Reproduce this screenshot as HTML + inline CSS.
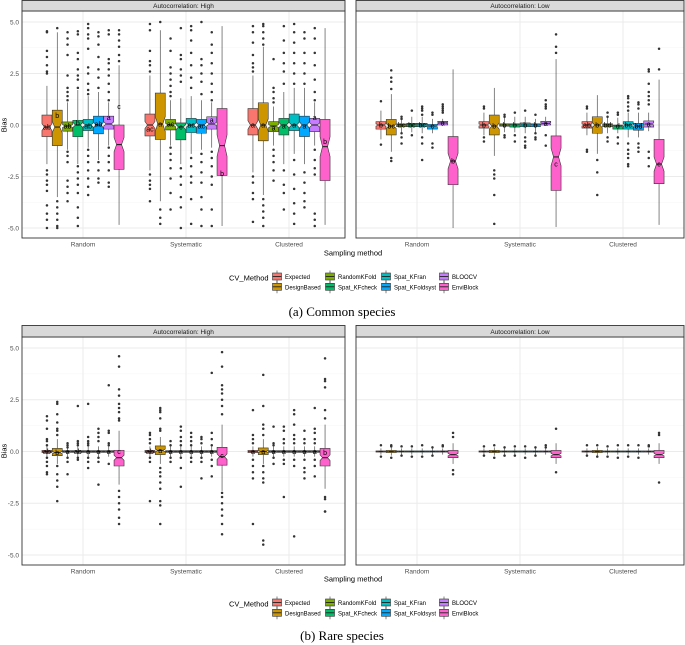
<!DOCTYPE html>
<html><head><meta charset="utf-8">
<style>
html,body{margin:0;padding:0;background:#fff;}
svg{display:block;font-family:"Liberation Sans",sans-serif;}
</style></head>
<body>
<svg id="fig" width="685" height="645" viewBox="0 0 685 645" xmlns="http://www.w3.org/2000/svg"></svg>
<script>
const methods = ["Expected","DesignBased","RandomKFold","Spat_KFcheck","Spat_KFran","Spat_KFoldsyst","BLOOCV","EnviBlock"];
const methodColors = ["#F8766D","#CD9600","#7CAE00","#00BE67","#00BFC4","#00A9FF","#C77CFF","#FF61CC"];
const groups = ["Random","Systematic","Clustered"];
const yTicks = [-5,-2.5,0,2.5,5];
const yTickLabels = ["-5.0","-2.5","0.0","2.5","5.0"];

// stats: [lowerWhisker, q1, median, q3, upperWhisker]
const commonHighStats = [
 [[-1.9,-0.56,-0.1,0.48,1.9],[-3.5,-1.0,-0.1,0.72,4.5],[-1.2,-0.3,-0.05,0.15,1.1],[-1.9,-0.57,0,0.23,1.7],[-1.1,-0.27,0,0.27,1.4],[-1.7,-0.43,0,0.43,1.6],[-1.0,-0.2,0.05,0.43,1.1],[-4.85,-2.15,-0.95,0,2.9]],
 [[-2.2,-0.53,0,0.53,2.4],[-3.7,-0.7,0.05,1.55,4.6],[-1.0,-0.24,0,0.27,1.2],[-1.9,-0.72,-0.1,0.1,1.3],[-1.4,-0.37,0,0.32,1.4],[-1.2,-0.4,0,0.27,1.2],[-1.1,-0.2,0.05,0.4,1.1],[-4.9,-2.45,-1.0,0.8,4.8]],
 [[-2.3,-0.48,0,0.8,2.4],[-3.4,-0.77,0,1.08,3.8],[-1.0,-0.32,-0.05,0.16,0.9],[-1.9,-0.48,0,0.32,1.6],[-1.4,-0.27,0,0.53,1.8],[-1.9,-0.56,0,0.43,1.8],[-1.0,-0.32,0,0.32,1.1],[-4.85,-2.7,-1.05,0.27,4.7]]
];
const commonHighLetters = [["ab","b","ab","b","ab","ab","a","c"],["ac","a","ac","c","ac","ac","a","b"],["a","a","a","a","a","a","a","b"]];
const commonHighLetterY = [[-0.1,0.45,-0.05,0.1,-0.05,0.05,0.35,0.9],[-0.2,0.05,0.05,-0.1,0,-0.05,0.25,-2.35],[0,0,-0.15,-0.05,0,-0.05,0.35,-0.8]];
const commonHighOutliers = [
 [[4.55,4.5,3.6,3.3,2.9,2.6,2.5,-2.2,-2.4,-2.7,-2.9,-3.2,-3.9,-4.3,-4.6,-5.0],[4.7,-3.7,-4.0,-4.3,-4.6,-4.9,-5.0],[4.5,4.2,3.9,3.4,2.4,1.8,1.6,1.4,1.2,-1.3,-1.5,-1.8,-2.7,-3.0,-3.3,-3.7],[4.55,4.4,3.5,3.2,2.7,2.4,2.2,1.8,-2.0,-2.3,-2.6,-2.9,-3.3,-4.0,-4.5,-4.9],[4.9,4.7,4.4,4.2,3.7,2.8,2.5,2.0,1.7,1.5,-1.2,-1.5,-1.8,-2.2,-2.6,-3.0,-3.4],[4.5,4.3,3.9,3.3,2.7,2.3,1.8,-1.8,-2.2,-2.6,-2.8],[4.6,4.4,3.2,3.0,2.7,2.4,2.0,1.6,1.2,-1.1,-1.5,-1.8,-2.2,-2.8,-3.0],[4.6,4.4,4.1,3.8,3.4,3.1]],
 [[4.9,4.6,3.6,3.1,2.9,2.6,-2.4,-2.7,-2.9,-3.1,-3.7],[5.0,-4.1,-4.5,-4.8],[4.2,3.6,2.8,2.5,2.2,1.9,1.6,1.4,-1.1,-1.4,-1.7,-2.1,-2.6,-3.3,-4.1],[4.7,3.4,3.2,2.7,2.4,2.1,-2.1,-2.5,-2.9,-3.5,-4.0,-5.0],[4.8,4.6,4.1,3.5,2.9,2.3,1.8,-1.6,-2.0,-2.5,-2.8,-3.6,-4.8],[5.0,3.2,2.9,2.5,2.1,1.5,-1.4,-1.8,-2.3,-2.8,-3.5,-4.1,-4.9],[4.5,3.9,3.5,3.0,2.5,2.0,1.6,1.2,-1.3,-1.6,-2.0,-2.5,-2.9,-4.1,-4.9],[]],
 [[4.8,4.5,4.0,3.4,3.0,2.8,2.6,-2.5,-2.8,-3.3,-3.6,-4.7],[4.9,4.8,4.5,4.2,3.9,-3.6,-3.9,-4.2,-4.5,-4.9],[3.2,1.8,1.6,1.3,1.1,-1.2,-1.5,-1.8,-2.2,-2.7],[4.8,4.1,3.5,3.0,2.6,2.0,-2.2,-2.9,-3.3,-4.1],[4.9,4.5,4.0,3.5,3.0,2.5,2.0,-1.7,-2.4,-3.1,-3.8,-4.3,-4.8],[4.5,4.2,3.5,3.0,2.5,2.0,-2.3,-2.8,-3.3,-3.7,-4.0],[4.7,4.2,3.5,2.9,2.2,1.6,1.2,-1.2,-1.7,-2.1,-2.4,-4.3,-4.6,-4.9],[]]
];

const commonLowStats = [
 [[-0.7,-0.2,0,0.16,0.7],[-1.3,-0.48,-0.05,0.27,1.5],[-0.35,-0.08,0,0.05,0.35],[-0.35,-0.08,0,0.08,0.4],[-0.4,-0.08,0,0.08,0.4],[-0.4,-0.2,-0.05,0.03,0.3],[-0.05,0,0.1,0.18,0.3],[-5.0,-2.9,-1.75,-0.56,2.7]],
 [[-0.5,-0.15,0,0.16,0.6],[-1.5,-0.48,-0.05,0.48,1.8],[-0.35,-0.06,0,0.06,0.4],[-0.35,-0.1,0,0.06,0.4],[-0.4,-0.08,0,0.1,0.4],[-0.35,-0.08,0,0.06,0.3],[0,0,0.08,0.18,0.4],[-4.95,-3.18,-1.55,-0.53,3.2]],
 [[-0.5,-0.15,0,0.16,0.6],[-1.4,-0.4,0,0.4,1.45],[-0.4,-0.08,0,0.06,0.4],[-0.4,-0.2,-0.05,0,0.35],[-0.6,-0.2,0,0.16,0.6],[-0.6,-0.25,-0.05,0.08,0.6],[-0.3,-0.1,0.05,0.2,0.6],[-4.85,-2.85,-1.9,-0.7,2.2]]
];
const commonLowLetters = [["b","bc","bc","bc","bc","c","a","b"],["b","b","b","b","b","b","a","c"],["ab","b","bd","d","bc","bd","a","c"]];
const commonLowLetterY = [[0,-0.05,0,0,0,-0.05,0.1,-1.75],[0,-0.05,0,0,0,0,0.08,-1.9],[0,0,0,-0.05,0,-0.05,0.05,-1.9]];
const commonLowOutliers = [
 [[1.15,-0.95],[2.65,2.3,2.1,1.75,-1.6,-1.75],[0.4,0.3,-0.4,-0.6,-0.9],[0.7,-0.5],[0.9,0.8,0.7,0.5,-0.6,-0.9,-1.7],[0.6,0.5,-0.9,-1.1],[1.0,0.9,0.8,0.7,0.6],[]],
 [[0.9,0.8,-0.6,-0.8],[-2.2,-2.4,-2.6,-3.4,-4.8],[0.5,0.4,-0.5,-0.6],[0.6,-0.5,-0.8],[0.7,-0.6,-0.8,-1.0,-1.1],[0.5,-0.4,-0.6,-0.7],[1.2,1.0,0.9,0.8,-0.5,-1.0],[4.4,3.8,3.5]],
 [[0.9,0.8,-1.2,-1.3],[-1.7,-2.3,-3.4],[0.6,0.4,-0.6,-0.8],[0.6,0.5,-0.6,-0.9],[1.4,1.3,1.1,0.9,0.7,-0.9,-1.2,-1.4,-1.6,-1.9,-2.0],[1.1,1.0,0.8,-0.9,-1.1,-1.3],[2.7,2.6,2.0,1.6,1.4,1.2,1.0,-1.3,-1.6,-2.0],[3.7,2.7]]
];

const rareHighStats = [
 [[-0.25,-0.05,0,0.05,0.25],[-0.6,-0.2,-0.05,0.15,0.6],[-0.25,-0.04,0,0.04,0.25],[-0.25,-0.04,0,0.04,0.25],[-0.25,-0.04,0,0.04,0.25],[-0.25,-0.04,0,0.04,0.25],[-0.25,-0.04,0,0.04,0.25],[-1.6,-0.7,-0.3,0.06,1.0]],
 [[-0.25,-0.05,0,0.05,0.25],[-0.6,-0.15,0.05,0.27,0.7],[-0.25,-0.04,0,0.04,0.25],[-0.25,-0.04,0,0.04,0.25],[-0.25,-0.04,0,0.04,0.25],[-0.25,-0.04,0,0.04,0.25],[-0.25,-0.04,0,0.04,0.25],[-1.9,-0.66,-0.25,0.2,1.3]],
 [[-0.25,-0.05,0,0.05,0.25],[-0.6,-0.15,0,0.17,0.6],[-0.25,-0.04,0,0.04,0.25],[-0.25,-0.04,0,0.04,0.25],[-0.25,-0.04,0,0.04,0.25],[-0.25,-0.04,0,0.04,0.25],[-0.25,-0.04,0,0.04,0.25],[-1.8,-0.7,-0.3,0.15,1.3]]
];
const rareHighLetters = [["ab","b","a","ab","a","a","a","c"],["ab","a","a","a","a","a","a","c"],["a","a","a","a","a","a","a","b"]];
const rareHighLetterY = [[0,-0.05,0,0,0,0,0,0],[0,0.05,0,0,0,0,0,-0.2],[0,0,0,0,0,0,0,-0.05]];
const rareHighOutliers = [
 [[1.7,1.5,1.1,0.6,0.5,0.3,-0.3,-0.5,-0.7,-1.0,-1.1],[2.4,2.3,1.8,1.4,1.1,1.0,0.8,-0.7,-1.1,-1.4,-1.7,-2.4],[0.4,0.3,0.2,-0.3,-0.5,-1.1],[2.2,0.5,0.4,0.3,-0.3,-0.4],[2.3,0.7,0.5,0.4,0.3,-0.3,-0.5,-0.8],[1.1,0.9,0.7,0.5,-0.3,-0.5,-1.6],[3.2,1.0,0.9,0.4,0.3,-0.6],[4.6,4.1,3.0,2.7,2.3,2.1,1.9,1.6,1.5,-1.9,-2.2,-2.5,-2.8,-3.2,-3.5]],
 [[0.9,0.8,0.6,0.4,-0.3,-0.5,-2.4],[2.1,2.0,1.9,1.6,1.1,1.0,-0.8,-1.0,-1.2,-1.5,-1.8,-2.4,-2.6,-3.5],[0.5,0.3,-0.3,-0.5],[1.2,1.0,0.7,0.5,0.3,-0.3,-0.8,-1.7],[0.9,0.7,0.5,0.3,-0.3,-0.5],[0.7,0.6,0.4,-0.3,-0.5,-1.3],[3.8,0.9,0.6,0.3,-0.4,-0.7,-1.2],[4.8,4.1,3.2,3.0,2.8,2.5,2.2,1.8,-2.0,-2.2,-2.5,-2.8,-3.1,-3.5,-4.0]],
 [[2.0,0.8,0.6,0.4,-0.4,-0.7,-1.0,-1.3,-3.5],[3.7,2.2,1.3,1.1,0.8,-0.7,-1.0,-1.3,-1.5,-4.3,-4.5],[1.2,0.4,0.3,-0.3,-0.6],[1.2,1.0,0.6,0.4,-0.4,-0.6,-2.2],[2.0,1.8,1.3,0.8,0.6,0.4,-0.4,-0.7,-4.1],[1.0,0.6,0.4,-0.4,-0.8,-1.0,-1.3],[2.1,1.1,0.9,0.6,0.4,-0.4,-0.7,-1.2],[4.5,3.5,3.4,3.1,2.0,1.6,-2.2,-2.3,-2.9,-2.9]]
];

const rareLowStats = [
 [[-0.15,-0.03,0,0.03,0.15],[-0.2,-0.05,0,0.05,0.2],[-0.15,-0.03,0,0.03,0.15],[-0.15,-0.03,0,0.03,0.15],[-0.15,-0.03,0,0.03,0.15],[-0.15,-0.03,0,0.03,0.15],[-0.15,-0.03,0,0.03,0.15],[-0.6,-0.3,-0.15,0.05,0.4]],
 [[-0.15,-0.03,0,0.03,0.15],[-0.2,-0.05,0,0.05,0.2],[-0.15,-0.03,0,0.03,0.15],[-0.15,-0.03,0,0.03,0.15],[-0.15,-0.03,0,0.03,0.15],[-0.15,-0.03,0,0.03,0.15],[-0.15,-0.03,0,0.03,0.15],[-0.6,-0.3,-0.15,0.05,0.4]],
 [[-0.15,-0.03,0,0.03,0.15],[-0.2,-0.05,0,0.05,0.2],[-0.15,-0.03,0,0.03,0.15],[-0.15,-0.03,0,0.03,0.15],[-0.15,-0.03,0,0.03,0.15],[-0.15,-0.03,0,0.03,0.15],[-0.15,-0.03,0,0.03,0.15],[-0.6,-0.3,-0.15,0.05,0.4]]
];
const rareLowOutliers = [
 [[0.3,-0.25],[0.3,0.25,-0.3],[0.25,-0.2],[0.25,-0.25],[0.3,-0.25],[0.2,-0.2],[0.3,0.25],[0.9,0.7,-0.9,-1.1]],
 [[0.25,-0.2],[0.3,-0.3],[0.2,-0.2],[0.25,-0.2],[0.25,-0.3],[0.2,-0.2],[0.3,0.2],[1.1,-1.0]],
 [[0.3,-0.2],[0.3,-0.25],[0.25,-0.25],[0.3,-0.3],[0.3,-0.25],[0.3,-0.3],[0.3,0.25],[0.9,0.8,-1.5]]
];

const NS = "http://www.w3.org/2000/svg";
const svg = document.getElementById("fig");
function mk(tag, attrs, parent){
  const e = document.createElementNS(NS, tag);
  for (const k in attrs) e.setAttribute(k, attrs[k]);
  (parent||svg).appendChild(e);
  return e;
}

const panels = [
 {name:"common-high", title:"Autocorrelation: High", x0:22, x1:345, s0:0, y0:11, y1:238, zero:125, scale:20.6, gx:83, yAxis:true, stats:commonHighStats, letters:commonHighLetters, letterY:commonHighLetterY, outliers:commonHighOutliers},
 {name:"common-low", title:"Autocorrelation: Low", x0:356, x1:684, s0:0, y0:11, y1:238, zero:125, scale:20.6, gx:417, yAxis:false, stats:commonLowStats, letters:commonLowLetters, letterY:commonLowLetterY, outliers:commonLowOutliers},
 {name:"rare-high", title:"Autocorrelation: High", x0:22, x1:345, s0:325, y0:337, y1:565, zero:451.5, scale:20.7, gx:83, yAxis:true, stats:rareHighStats, letters:rareHighLetters, letterY:rareHighLetterY, outliers:rareHighOutliers},
 {name:"rare-low", title:"Autocorrelation: Low", x0:356, x1:684, s0:325, y0:337, y1:565, zero:451.5, scale:20.7, gx:417, yAxis:false, stats:rareLowStats, letters:null, letterY:null, outliers:rareLowOutliers}
];
const groupStep = 103, dodge = 10.3, boxW = 10;

panels.forEach(p => {
  const yS = v => p.zero - v * p.scale;
  const xG = g => p.gx + g * groupStep;
  const xB = (g, m) => xG(g) + (m - 3.5) * dodge;
  const grp = mk("g", {});
  
  
  const bg = mk("rect", {x:p.x0, y:p.y0, width:p.x1-p.x0, height:p.y1-p.y0, fill:"#fff"}, grp);
  
  
  for (let i = 0; i < yTicks.length - 1; i++) {
    const v = (yTicks[i] + yTicks[i+1]) / 2;
    const l = mk("line", {x1:p.x0, x2:p.x1, y1:yS(v), y2:yS(v), stroke:"#F4F4F4", "stroke-width":0.6}, grp);
    
    
  }
  yTicks.forEach((v, i) => {
    const l = mk("line", {x1:p.x0, x2:p.x1, y1:yS(v), y2:yS(v), stroke:"#EBEBEB", "stroke-width":1}, grp);
    
    
    if (p.yAxis) {
      const t = mk("text", {x:p.x0 - 3, y:yS(v) + 2.3, "font-size":6.5, fill:"#4D4D4D", "text-anchor":"end"}, svg);
      t.textContent = yTickLabels[i];
      
      
    }
  });
  groups.forEach((gname, g) => {
    const l = mk("line", {x1:xG(g), x2:xG(g), y1:p.y0, y2:p.y1, stroke:"#EBEBEB", "stroke-width":1}, grp);
    
    
    const t = mk("text", {x:xG(g), y:p.y1 + 8.5, "font-size":6.5, fill:"#4D4D4D", "text-anchor":"middle"}, svg);
    t.textContent = gname;
    
    
  });
  groups.forEach((gname, g) => {
    methods.forEach((mname, m) => {
      const s = p.stats[g][m];
      const cx = xB(g, m), hw = boxW / 2;
      const bx = mk("g", {}, grp);
      
      
      mk("line", {x1:cx, x2:cx, y1:yS(s[4]), y2:yS(s[3]), stroke:"#333", "stroke-width":0.6}, bx);
      mk("line", {x1:cx, x2:cx, y1:yS(s[1]), y2:yS(s[0]), stroke:"#333", "stroke-width":0.6}, bx);
      p.outliers[g][m].forEach(v => {
        const c = mk("circle", {cx:cx, cy:yS(v), r:1.25, fill:"#333"}, bx);
        
        
      });
      const iqr = s[3] - s[1];
      const nh = Math.min(0.16 * iqr, iqr / 2);
      const nw = hw / 2;
      const yq3 = yS(s[3]), yq1 = yS(s[1]), ym = yS(s[2]);
      const yn1 = yS(Math.min(s[2] + nh, s[3])), yn2 = yS(Math.max(s[2] - nh, s[1]));
      const pts = [[cx-hw,yq3],[cx+hw,yq3],[cx+hw,yn1],[cx+nw,ym],[cx+hw,yn2],[cx+hw,yq1],[cx-hw,yq1],[cx-hw,yn2],[cx-nw,ym],[cx-hw,yn1]];
      mk("polygon", {points:pts.map(q=>q.join(",")).join(" "), fill:methodColors[m], stroke:"#333", "stroke-width":0.6}, bx);
      mk("line", {x1:cx-nw, x2:cx+nw, y1:ym, y2:ym, stroke:"#222", "stroke-width":1.1}, bx);
      if (p.letters) {
        const t = mk("text", {x:cx, y:yS(p.letterY[g][m]) + 2.4, "font-size":7, fill:"#000", "text-anchor":"middle"}, bx);
        t.textContent = p.letters[g][m];
        
        
      }
    });
  });
  const bd = mk("rect", {x:p.x0, y:p.y0, width:p.x1-p.x0, height:p.y1-p.y0, fill:"none", stroke:"#333", "stroke-width":0.9}, grp);
  
  
  const st = mk("rect", {x:p.x0, y:p.s0 + 0.5, width:p.x1-p.x0, height:p.y0-p.s0 - 0.5, fill:"#D9D9D9", stroke:"#333", "stroke-width":0.9}, grp);
  
  
  const stt = mk("text", {x:(p.x0+p.x1)/2, y:p.y0 - 3, "font-size":6.5, fill:"#1A1A1A", "text-anchor":"middle"}, grp);
  stt.textContent = p.title;
  
  
});

[{cy:125, ly:253, ky:273, cap:"(a) Common species", capY:316, tag:"common"},
 {cy:451, ly:579, ky:599, cap:"(b) Rare species", capY:640, tag:"rare"}].forEach(f => {
  const yt = mk("text", {x:0, y:0, transform:"translate(6.5," + f.cy + ") rotate(-90)", "font-size":7.5, fill:"#000", "text-anchor":"middle"});
  yt.textContent = "Bias";
  
  
  const xt = mk("text", {x:353, y:f.ly + 2.5, "font-size":7.5, fill:"#000", "text-anchor":"middle"});
  xt.textContent = "Sampling method";
  
  
  const lt = mk("text", {x:229, y:f.ky + 7.5, "font-size":7.5, fill:"#000"});
  lt.textContent = "CV_Method";
  
  
  const colKey = [272, 325, 381, 439];
  methods.forEach((mname, m) => {
    const col = Math.floor(m / 2), row = m % 2;
    const kx = colKey[col], ky = f.ky + row * 10.3;
    const lg = mk("g", {});
    
    
    mk("line", {x1:kx+5, x2:kx+5, y1:ky-2.5, y2:ky+10, stroke:"#333", "stroke-width":0.6}, lg);
    mk("rect", {x:kx+0.5, y:ky, width:9, height:7, fill:methodColors[m], stroke:"#333", "stroke-width":0.6}, lg);
    mk("line", {x1:kx+0.5, x2:kx+9.5, y1:ky+3.5, y2:ky+3.5, stroke:"#222", "stroke-width":0.9}, lg);
    const t = mk("text", {x:kx+13, y:ky+6, "font-size":6, fill:"#000"}, lg);
    t.textContent = mname;
  });
  const c = mk("text", {x:342, y:f.capY, "font-size":13, fill:"#000", "text-anchor":"middle", "font-family":"'Liberation Serif',serif"});
  c.textContent = f.cap;
  
  
});
</script>
</body></html>
